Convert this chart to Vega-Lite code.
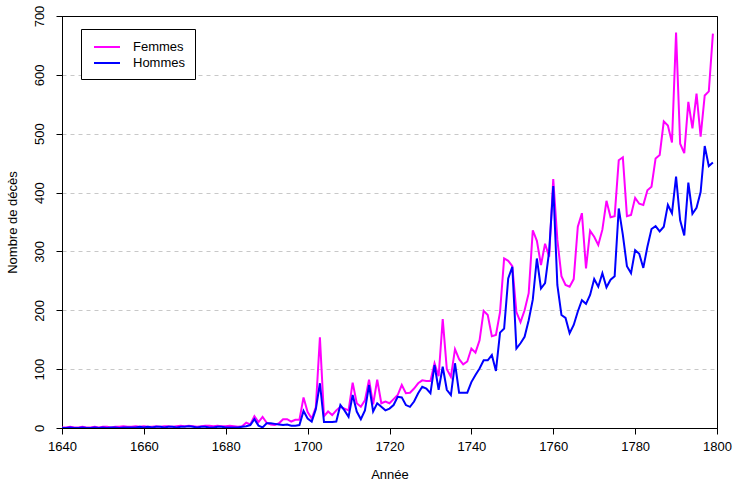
{
  "$schema": "https://vega.github.io/schema/vega-lite/v6.json",
  "width": 655,
  "height": 412,
  "autosize": {"type": "none"},
  "padding": {"left": 62, "top": 16, "right": 17, "bottom": 53},
  "background": "white",
  "config": {
    "font": "Liberation Sans",
    "view": {"stroke": "black", "strokeWidth": 1}
  },
  "data": {
    "values": [
      {"annee":1640,"Femmes":1,"Hommes":0},{"annee":1641,"Femmes":1,"Hommes":0},{"annee":1642,"Femmes":2,"Hommes":1},{"annee":1643,"Femmes":1,"Hommes":0},{"annee":1644,"Femmes":1,"Hommes":0},
      {"annee":1645,"Femmes":2,"Hommes":1},{"annee":1646,"Femmes":1,"Hommes":0},{"annee":1647,"Femmes":1,"Hommes":0},{"annee":1648,"Femmes":2,"Hommes":1},{"annee":1649,"Femmes":1,"Hommes":0},
      {"annee":1650,"Femmes":2,"Hommes":1},{"annee":1651,"Femmes":2,"Hommes":0},{"annee":1652,"Femmes":1,"Hommes":1},{"annee":1653,"Femmes":2,"Hommes":1},{"annee":1654,"Femmes":2,"Hommes":0},
      {"annee":1655,"Femmes":3,"Hommes":1},{"annee":1656,"Femmes":2,"Hommes":1},{"annee":1657,"Femmes":2,"Hommes":1},{"annee":1658,"Femmes":3,"Hommes":1},{"annee":1659,"Femmes":2,"Hommes":2},
      {"annee":1660,"Femmes":3,"Hommes":1},{"annee":1661,"Femmes":2,"Hommes":2},{"annee":1662,"Femmes":2,"Hommes":1},{"annee":1663,"Femmes":3,"Hommes":2},{"annee":1664,"Femmes":2,"Hommes":2},
      {"annee":1665,"Femmes":3,"Hommes":1},{"annee":1666,"Femmes":3,"Hommes":2},{"annee":1667,"Femmes":2,"Hommes":2},{"annee":1668,"Femmes":3,"Hommes":1},{"annee":1669,"Femmes":4,"Hommes":2},
      {"annee":1670,"Femmes":3,"Hommes":2},{"annee":1671,"Femmes":4,"Hommes":3},{"annee":1672,"Femmes":3,"Hommes":2},{"annee":1673,"Femmes":2,"Hommes":1},{"annee":1674,"Femmes":3,"Hommes":2},
      {"annee":1675,"Femmes":4,"Hommes":2},{"annee":1676,"Femmes":4,"Hommes":1},{"annee":1677,"Femmes":3,"Hommes":1},{"annee":1678,"Femmes":4,"Hommes":2},{"annee":1679,"Femmes":3,"Hommes":2},
      {"annee":1680,"Femmes":3,"Hommes":1},{"annee":1681,"Femmes":4,"Hommes":1},{"annee":1682,"Femmes":3,"Hommes":1},{"annee":1683,"Femmes":2,"Hommes":1},{"annee":1684,"Femmes":3,"Hommes":2},
      {"annee":1685,"Femmes":9,"Hommes":3},{"annee":1686,"Femmes":6,"Hommes":5},{"annee":1687,"Femmes":20,"Hommes":15},{"annee":1688,"Femmes":10,"Hommes":4},{"annee":1689,"Femmes":19,"Hommes":1},
      {"annee":1690,"Femmes":9,"Hommes":8},{"annee":1691,"Femmes":6,"Hommes":8},{"annee":1692,"Femmes":5,"Hommes":7},{"annee":1693,"Femmes":8,"Hommes":6},{"annee":1694,"Femmes":15,"Hommes":5},
      {"annee":1695,"Femmes":15,"Hommes":6},{"annee":1696,"Femmes":11,"Hommes":4},{"annee":1697,"Femmes":14,"Hommes":4},{"annee":1698,"Femmes":14,"Hommes":5},{"annee":1699,"Femmes":52,"Hommes":29},
      {"annee":1700,"Femmes":27,"Hommes":16},{"annee":1701,"Femmes":16,"Hommes":11},{"annee":1702,"Femmes":35,"Hommes":32},{"annee":1703,"Femmes":154,"Hommes":76},{"annee":1704,"Femmes":20,"Hommes":10},
      {"annee":1705,"Femmes":28,"Hommes":10},{"annee":1706,"Femmes":22,"Hommes":10},{"annee":1707,"Femmes":30,"Hommes":11},{"annee":1708,"Femmes":36,"Hommes":39},{"annee":1709,"Femmes":33,"Hommes":30},
      {"annee":1710,"Femmes":30,"Hommes":19},{"annee":1711,"Femmes":77,"Hommes":56},{"annee":1712,"Femmes":42,"Hommes":28},{"annee":1713,"Femmes":36,"Hommes":15},{"annee":1714,"Femmes":47,"Hommes":30},
      {"annee":1715,"Femmes":82,"Hommes":73},{"annee":1716,"Femmes":40,"Hommes":28},{"annee":1717,"Femmes":82,"Hommes":42},{"annee":1718,"Femmes":42,"Hommes":36},{"annee":1719,"Femmes":45,"Hommes":30},
      {"annee":1720,"Femmes":42,"Hommes":33},{"annee":1721,"Femmes":49,"Hommes":39},{"annee":1722,"Femmes":56,"Hommes":53},{"annee":1723,"Femmes":73,"Hommes":52},{"annee":1724,"Femmes":59,"Hommes":39},
      {"annee":1725,"Femmes":60,"Hommes":36},{"annee":1726,"Femmes":67,"Hommes":45},{"annee":1727,"Femmes":76,"Hommes":59},{"annee":1728,"Femmes":81,"Hommes":70},{"annee":1729,"Femmes":80,"Hommes":67},
      {"annee":1730,"Femmes":80,"Hommes":59},{"annee":1731,"Femmes":110,"Hommes":107},{"annee":1732,"Femmes":88,"Hommes":65},{"annee":1733,"Femmes":185,"Hommes":104},{"annee":1734,"Femmes":100,"Hommes":65},
      {"annee":1735,"Femmes":87,"Hommes":56},{"annee":1736,"Femmes":134,"Hommes":110},{"annee":1737,"Femmes":117,"Hommes":60},{"annee":1738,"Femmes":108,"Hommes":60},{"annee":1739,"Femmes":113,"Hommes":60},
      {"annee":1740,"Femmes":135,"Hommes":78},{"annee":1741,"Femmes":128,"Hommes":90},{"annee":1742,"Femmes":149,"Hommes":101},{"annee":1743,"Femmes":199,"Hommes":115},{"annee":1744,"Femmes":192,"Hommes":115},
      {"annee":1745,"Femmes":156,"Hommes":124},{"annee":1746,"Femmes":158,"Hommes":97},{"annee":1747,"Femmes":197,"Hommes":162},{"annee":1748,"Femmes":288,"Hommes":169},{"annee":1749,"Femmes":284,"Hommes":254},
      {"annee":1750,"Femmes":275,"Hommes":274},{"annee":1751,"Femmes":197,"Hommes":135},{"annee":1752,"Femmes":180,"Hommes":144},{"annee":1753,"Femmes":200,"Hommes":155},{"annee":1754,"Femmes":229,"Hommes":183},
      {"annee":1755,"Femmes":336,"Hommes":218},{"annee":1756,"Femmes":318,"Hommes":288},{"annee":1757,"Femmes":277,"Hommes":237},{"annee":1758,"Femmes":313,"Hommes":246},{"annee":1759,"Femmes":291,"Hommes":300},
      {"annee":1760,"Femmes":423,"Hommes":411},{"annee":1761,"Femmes":320,"Hommes":243},{"annee":1762,"Femmes":258,"Hommes":192},{"annee":1763,"Femmes":243,"Hommes":187},{"annee":1764,"Femmes":240,"Hommes":161},
      {"annee":1765,"Femmes":253,"Hommes":175},{"annee":1766,"Femmes":342,"Hommes":198},{"annee":1767,"Femmes":365,"Hommes":217},{"annee":1768,"Femmes":271,"Hommes":211},{"annee":1769,"Femmes":335,"Hommes":226},
      {"annee":1770,"Femmes":325,"Hommes":253},{"annee":1771,"Femmes":311,"Hommes":240},{"annee":1772,"Femmes":337,"Hommes":263},{"annee":1773,"Femmes":386,"Hommes":239},{"annee":1774,"Femmes":358,"Hommes":252},
      {"annee":1775,"Femmes":360,"Hommes":258},{"annee":1776,"Femmes":455,"Hommes":373},{"annee":1777,"Femmes":460,"Hommes":328},{"annee":1778,"Femmes":360,"Hommes":275},{"annee":1779,"Femmes":362,"Hommes":263},
      {"annee":1780,"Femmes":391,"Hommes":302},{"annee":1781,"Femmes":381,"Hommes":296},{"annee":1782,"Femmes":379,"Hommes":272},{"annee":1783,"Femmes":404,"Hommes":308},{"annee":1784,"Femmes":410,"Hommes":338},
      {"annee":1785,"Femmes":458,"Hommes":343},{"annee":1786,"Femmes":464,"Hommes":334},{"annee":1787,"Femmes":521,"Hommes":342},{"annee":1788,"Femmes":514,"Hommes":379},{"annee":1789,"Femmes":485,"Hommes":365},
      {"annee":1790,"Femmes":672,"Hommes":427},{"annee":1791,"Femmes":483,"Hommes":353},{"annee":1792,"Femmes":467,"Hommes":327},{"annee":1793,"Femmes":554,"Hommes":417},{"annee":1794,"Femmes":509,"Hommes":364},
      {"annee":1795,"Femmes":568,"Hommes":374},{"annee":1796,"Femmes":495,"Hommes":401},{"annee":1797,"Femmes":565,"Hommes":479},{"annee":1798,"Femmes":572,"Hommes":445},{"annee":1799,"Femmes":670,"Hommes":451}
    ]
  },
  "transform": [{"fold": ["Femmes", "Hommes"], "as": ["sexe", "deces"]}],
  "mark": {"type": "line", "strokeWidth": 2, "clip": true},
  "encoding": {
    "x": {
      "field": "annee", "type": "quantitative",
      "scale": {"domain": [1640, 1800], "nice": false, "zero": false},
      "axis": {
        "title": "Année", "values": [1640,1660,1680,1700,1720,1740,1760,1780,1800],
        "format": "d", "grid": false, "domainColor": "black", "tickColor": "black",
        "tickSize": 6, "labelPadding": 6, "labelFontSize": 13, "labelColor": "black",
        "titleFontSize": 13, "titleFontWeight": "normal", "titleColor": "black", "titlePadding": 15,
        "labelFlush": false
      }
    },
    "y": {
      "field": "deces", "type": "quantitative",
      "scale": {"domain": [0, 700], "nice": false},
      "axis": {
        "title": "Nombre de décès", "values": [0,100,200,300,400,500,600,700],
        "grid": true,
        "gridColor": {"condition": {"test": "datum.value === 700 || datum.value === 0", "value": "black"}, "value": "#c8c8c8"},
        "gridDash": {"condition": {"test": "datum.value === 700 || datum.value === 0", "value": []}, "value": [4, 4]},
        "gridWidth": 1,
        "domainColor": "black", "tickColor": "black", "tickSize": 6,
        "labelAngle": -90, "labelAlign": "center", "labelBaseline": "bottom",
        "labelPadding": 10, "labelFontSize": 13, "labelColor": "black", "labelFlush": false,
        "titleFontSize": 13, "titleFontWeight": "normal", "titleColor": "black", "titlePadding": 14
      }
    },
    "color": {
      "field": "sexe", "type": "nominal",
      "scale": {"domain": ["Femmes", "Hommes"], "range": ["#FF00FF", "#0000FF"]},
      "legend": {
        "title": null, "orient": "none", "legendX": 19, "legendY": 13,
        "symbolType": "M-0.625,0L2.625,0", "symbolSize": 256, "symbolStrokeWidth": 2,
        "labelFontSize": 13, "labelColor": "black", "labelOffset": 25,
        "strokeColor": "black", "fillColor": "white", "padding": 9,
        "rowPadding": 0, "symbolOffset": 0
      }
    }
  }
}
